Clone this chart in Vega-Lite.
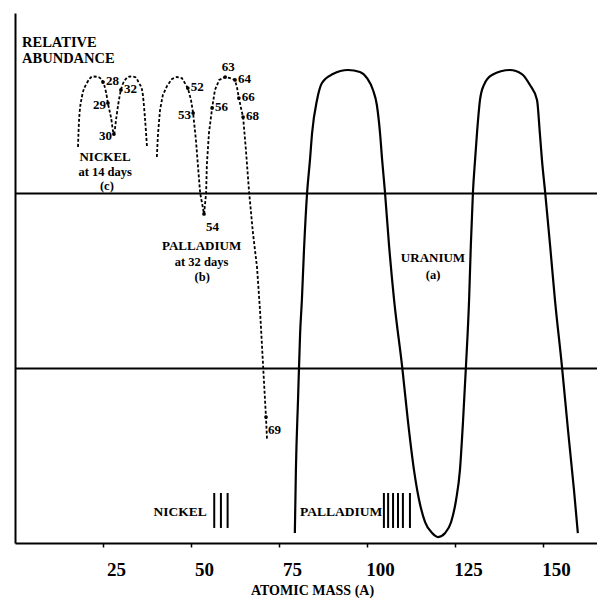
{
  "$schema": "https://vega.github.io/schema/vega-lite/v6.json",
  "width": 582,
  "height": 530,
  "autosize": "none",
  "padding": {"left": 15, "top": 13, "right": 0, "bottom": 57},
  "config": {"view": {"stroke": null}, "font": "Liberation Serif", "text": {"font": "Liberation Serif", "color": "black"}},
  "datasets": {
    "uranium": [
      {"A": 79.5, "L": -2.943}, {"A": 79.8, "L": -2.583}, {"A": 80.4, "L": -2.183}, {"A": 81.0, "L": -1.8},
      {"A": 81.5, "L": -1.611}, {"A": 82.1, "L": -1.325}, {"A": 83.0, "L": -0.993}, {"A": 83.8, "L": -0.81},
      {"A": 84.4, "L": -0.656}, {"A": 85.8, "L": -0.467}, {"A": 87.2, "L": -0.37}, {"A": 90.3, "L": -0.319},
      {"A": 94.6, "L": -0.296}, {"A": 98.0, "L": -0.307}, {"A": 100.0, "L": -0.342}, {"A": 101.7, "L": -0.41},
      {"A": 102.8, "L": -0.496}, {"A": 103.7, "L": -0.656}, {"A": 104.3, "L": -0.81}, {"A": 105.1, "L": -0.993},
      {"A": 106.25, "L": -1.296}, {"A": 107.7, "L": -1.611}, {"A": 110.0, "L": -1.994}, {"A": 111.6, "L": -2.297},
      {"A": 113.35, "L": -2.583}, {"A": 114.8, "L": -2.754}, {"A": 116.5, "L": -2.88}, {"A": 118.5, "L": -2.943},
      {"A": 120.2, "L": -2.966}, {"A": 122.2, "L": -2.943}, {"A": 123.9, "L": -2.88}, {"A": 125.3, "L": -2.754},
      {"A": 126.4, "L": -2.583}, {"A": 127.3, "L": -2.297}, {"A": 128.1, "L": -1.994}, {"A": 129.0, "L": -1.611},
      {"A": 129.5, "L": -1.296}, {"A": 130.1, "L": -0.993}, {"A": 130.7, "L": -0.81}, {"A": 131.25, "L": -0.656},
      {"A": 132.1, "L": -0.467}, {"A": 133.2, "L": -0.382}, {"A": 135.5, "L": -0.324}, {"A": 140.6, "L": -0.296},
      {"A": 144.0, "L": -0.319}, {"A": 146.3, "L": -0.382}, {"A": 148.3, "L": -0.467}, {"A": 149.1, "L": -0.656},
      {"A": 149.7, "L": -0.81}, {"A": 150.6, "L": -0.993}, {"A": 152.0, "L": -1.296}, {"A": 153.4, "L": -1.611},
      {"A": 155.4, "L": -1.994}, {"A": 157.1, "L": -2.354}, {"A": 158.8, "L": -2.697}, {"A": 159.9, "L": -2.943}
    ],
    "nickel": [
      {"A": 17.9, "L": -0.736}, {"A": 18.2, "L": -0.582}, {"A": 19.0, "L": -0.45}, {"A": 20.45, "L": -0.37},
      {"A": 22.2, "L": -0.333}, {"A": 23.6, "L": -0.336}, {"A": 25.0, "L": -0.365}, {"A": 25.85, "L": -0.422},
      {"A": 26.4, "L": -0.485}, {"A": 27.3, "L": -0.57}, {"A": 28.1, "L": -0.662}, {"A": 28.7, "L": -0.582},
      {"A": 29.3, "L": -0.496}, {"A": 30.1, "L": -0.41}, {"A": 31.25, "L": -0.353}, {"A": 32.7, "L": -0.333},
      {"A": 34.1, "L": -0.336}, {"A": 35.2, "L": -0.37}, {"A": 36.1, "L": -0.41}, {"A": 36.9, "L": -0.565},
      {"A": 37.5, "L": -0.736}
    ],
    "palladium": [
      {"A": 40.3, "L": -0.793}, {"A": 40.6, "L": -0.668}, {"A": 41.2, "L": -0.525}, {"A": 42.0, "L": -0.439},
      {"A": 43.2, "L": -0.387}, {"A": 44.6, "L": -0.347}, {"A": 46.0, "L": -0.336}, {"A": 47.4, "L": -0.342},
      {"A": 49.1, "L": -0.399}, {"A": 50.0, "L": -0.467}, {"A": 50.6, "L": -0.542}, {"A": 51.4, "L": -0.696},
      {"A": 52.0, "L": -0.85}, {"A": 52.6, "L": -0.999}, {"A": 53.7, "L": -1.119}, {"A": 54.3, "L": -0.999},
      {"A": 54.5, "L": -0.839}, {"A": 55.1, "L": -0.656}, {"A": 56.0, "L": -0.513}, {"A": 56.8, "L": -0.41},
      {"A": 58.0, "L": -0.353}, {"A": 59.7, "L": -0.336}, {"A": 61.1, "L": -0.342}, {"A": 62.5, "L": -0.353},
      {"A": 63.1, "L": -0.399}, {"A": 63.6, "L": -0.456}, {"A": 64.2, "L": -0.513}, {"A": 64.8, "L": -0.565},
      {"A": 65.6, "L": -0.753}, {"A": 66.5, "L": -0.993}, {"A": 67.6, "L": -1.228}, {"A": 68.75, "L": -1.422},
      {"A": 69.6, "L": -1.668}, {"A": 70.5, "L": -1.994}, {"A": 71.3, "L": -2.28}, {"A": 71.6, "L": -2.411}
    ],
    "isotopes": [
      {"label": "28", "A": 25.0, "L": -0.365}, {"label": "29", "A": 26.4, "L": -0.485},
      {"label": "30", "A": 28.1, "L": -0.662}, {"label": "32", "A": 30.1, "L": -0.41},
      {"label": "52", "A": 49.1, "L": -0.399}, {"label": "53", "A": 50.6, "L": -0.542},
      {"label": "54", "A": 53.7, "L": -1.119}, {"label": "56", "A": 56.0, "L": -0.513},
      {"label": "63", "A": 59.7, "L": -0.336}, {"label": "64", "A": 62.5, "L": -0.353},
      {"label": "66", "A": 63.6, "L": -0.456}, {"label": "68", "A": 64.8, "L": -0.565},
      {"label": "69", "A": 71.3, "L": -2.28}
    ],
    "stable": [
      {"element": "Nickel", "A": 56.6}, {"element": "Nickel", "A": 58.5}, {"element": "Nickel", "A": 60.4},
      {"element": "Palladium", "A": 104.8}, {"element": "Palladium", "A": 106.0}, {"element": "Palladium", "A": 107.4},
      {"element": "Palladium", "A": 108.8}, {"element": "Palladium", "A": 110.2}, {"element": "Palladium", "A": 112.2}
    ],
    "curveNotes": [
      {"text": "NICKEL", "A": 25.6, "L": -0.793, "kind": "name"},
      {"text": "at 14 days", "A": 25.6, "L": -0.879, "kind": "sub"},
      {"text": "(c)", "A": 26.1, "L": -0.959, "kind": "sub"},
      {"text": "PALLADIUM", "A": 53.0, "L": -1.302, "kind": "name"},
      {"text": "at 32 days", "A": 53.0, "L": -1.394, "kind": "sub"},
      {"text": "(b)", "A": 53.2, "L": -1.479, "kind": "sub"},
      {"text": "URANIUM", "A": 118.75, "L": -1.371, "kind": "name"},
      {"text": "(a)", "A": 118.75, "L": -1.468, "kind": "sub"}
    ],
    "yTitle": [
      {"text": "RELATIVE", "A": 2.0, "L": -0.142},
      {"text": "ABUNDANCE", "A": 2.0, "L": -0.233}
    ],
    "stableNotes": [
      {"text": "NICKEL", "A": 54.5, "L": -2.823},
      {"text": "PALLADIUM", "A": 104.3, "L": -2.823}
    ]
  },
  "layer": [
    {
      "data": {"name": "uranium"},
      "mark": {"type": "line", "color": "black", "strokeWidth": 2.2, "interpolate": "monotone"},
      "encoding": {
        "x": {"field": "A", "type": "quantitative", "title": "ATOMIC MASS (A)", "scale": {"domain": [0, 165.34], "nice": false, "zero": false},
          "axis": {"title": "ATOMIC MASS (A)", "values": [25, 50, 75, 100, 125, 150], "grid": false,
            "domainColor": "black", "domainWidth": 2, "tickColor": "black", "tickSize": 4, "tickWidth": 1.5,
            "labelFont": "Liberation Serif", "labelFontSize": 19, "labelFontWeight": "bold", "labelColor": "black",
            "labelOffset": 13, "labelPadding": 13, "titleFont": "Liberation Serif", "titleFontSize": 14,
            "titleFontWeight": "bold", "titleColor": "black", "titlePadding": 4, "titleX": 297}},
        "y": {"field": "L", "type": "quantitative", "title": null, "scale": {"domain": [-3, 0.03], "nice": false, "zero": false},
          "axis": {"title": null, "labels": false, "ticks": false, "values": [-2, -1], "grid": true,
            "gridColor": "black", "gridWidth": 1.8, "gridOpacity": 1, "domainColor": "black", "domainWidth": 2}},
        "order": {"value": null}
      }
    },
    {
      "data": {"name": "nickel"},
      "mark": {"type": "line", "color": "black", "strokeWidth": 1.8, "strokeDash": [3, 2], "interpolate": "monotone"},
      "encoding": {
        "x": {"field": "A", "type": "quantitative", "title": "ATOMIC MASS (A)"},
        "y": {"field": "L", "type": "quantitative", "title": null},
        "order": {"value": null}
      }
    },
    {
      "data": {"name": "palladium"},
      "mark": {"type": "line", "color": "black", "strokeWidth": 1.8, "strokeDash": [3, 2], "interpolate": "linear"},
      "encoding": {
        "x": {"field": "A", "type": "quantitative", "title": "ATOMIC MASS (A)"},
        "y": {"field": "L", "type": "quantitative", "title": null},
        "order": {"value": null}
      }
    },
    {
      "data": {"name": "isotopes"},
      "mark": {"type": "point", "filled": true, "color": "black", "size": 14, "opacity": 1},
      "encoding": {
        "x": {"field": "A", "type": "quantitative", "title": "ATOMIC MASS (A)"},
        "y": {"field": "L", "type": "quantitative", "title": null}
      }
    },
    {
      "data": {"name": "isotopes"},
      "transform": [{"filter": {"field": "label", "oneOf": ["28", "32", "52", "56", "64", "66", "68"]}}],
      "mark": {"type": "text", "align": "left", "baseline": "middle", "dx": 3, "dy": -1, "fontSize": 13, "fontWeight": "bold"},
      "encoding": {
        "x": {"field": "A", "type": "quantitative", "title": "ATOMIC MASS (A)"},
        "y": {"field": "L", "type": "quantitative", "title": null},
        "text": {"field": "label"}
      }
    },
    {
      "data": {"name": "isotopes"},
      "transform": [{"filter": {"field": "label", "oneOf": ["29", "30", "53"]}}],
      "mark": {"type": "text", "align": "right", "baseline": "middle", "dx": -2, "dy": 2, "fontSize": 13, "fontWeight": "bold"},
      "encoding": {
        "x": {"field": "A", "type": "quantitative", "title": "ATOMIC MASS (A)"},
        "y": {"field": "L", "type": "quantitative", "title": null},
        "text": {"field": "label"}
      }
    },
    {
      "data": {"name": "isotopes"},
      "transform": [{"filter": {"field": "label", "oneOf": ["54", "69"]}}],
      "mark": {"type": "text", "align": "left", "baseline": "middle", "dx": 2, "dy": 13, "fontSize": 13, "fontWeight": "bold"},
      "encoding": {
        "x": {"field": "A", "type": "quantitative", "title": "ATOMIC MASS (A)"},
        "y": {"field": "L", "type": "quantitative", "title": null},
        "text": {"field": "label"}
      }
    },
    {
      "data": {"name": "isotopes"},
      "transform": [{"filter": {"field": "label", "oneOf": ["63"]}}],
      "mark": {"type": "text", "align": "center", "baseline": "middle", "dx": 3, "dy": -10, "fontSize": 13, "fontWeight": "bold"},
      "encoding": {
        "x": {"field": "A", "type": "quantitative", "title": "ATOMIC MASS (A)"},
        "y": {"field": "L", "type": "quantitative", "title": null},
        "text": {"field": "label"}
      }
    },
    {
      "data": {"name": "stable"},
      "mark": {"type": "rule", "color": "black", "strokeWidth": 2},
      "encoding": {
        "x": {"field": "A", "type": "quantitative", "title": "ATOMIC MASS (A)"},
        "y": {"datum": -2.714, "type": "quantitative", "title": null},
        "y2": {"datum": -2.914}
      }
    },
    {
      "data": {"name": "curveNotes"},
      "transform": [{"filter": {"field": "kind", "equal": "name"}}],
      "mark": {"type": "text", "align": "center", "baseline": "middle", "fontSize": 13, "fontWeight": "bold"},
      "encoding": {
        "x": {"field": "A", "type": "quantitative", "title": "ATOMIC MASS (A)"},
        "y": {"field": "L", "type": "quantitative", "title": null},
        "text": {"field": "text"}
      }
    },
    {
      "data": {"name": "curveNotes"},
      "transform": [{"filter": {"field": "kind", "equal": "sub"}}],
      "mark": {"type": "text", "align": "center", "baseline": "middle", "fontSize": 12.5, "fontWeight": 600},
      "encoding": {
        "x": {"field": "A", "type": "quantitative", "title": "ATOMIC MASS (A)"},
        "y": {"field": "L", "type": "quantitative", "title": null},
        "text": {"field": "text"}
      }
    },
    {
      "data": {"name": "yTitle"},
      "mark": {"type": "text", "align": "left", "baseline": "middle", "fontSize": 14.5, "fontWeight": "bold"},
      "encoding": {
        "x": {"field": "A", "type": "quantitative", "title": "ATOMIC MASS (A)"},
        "y": {"field": "L", "type": "quantitative", "title": null},
        "text": {"field": "text"}
      }
    },
    {
      "data": {"name": "stableNotes"},
      "mark": {"type": "text", "align": "right", "baseline": "middle", "fontSize": 13.5, "fontWeight": "bold"},
      "encoding": {
        "x": {"field": "A", "type": "quantitative", "title": "ATOMIC MASS (A)"},
        "y": {"field": "L", "type": "quantitative", "title": null},
        "text": {"field": "text"}
      }
    }
  ]
}
